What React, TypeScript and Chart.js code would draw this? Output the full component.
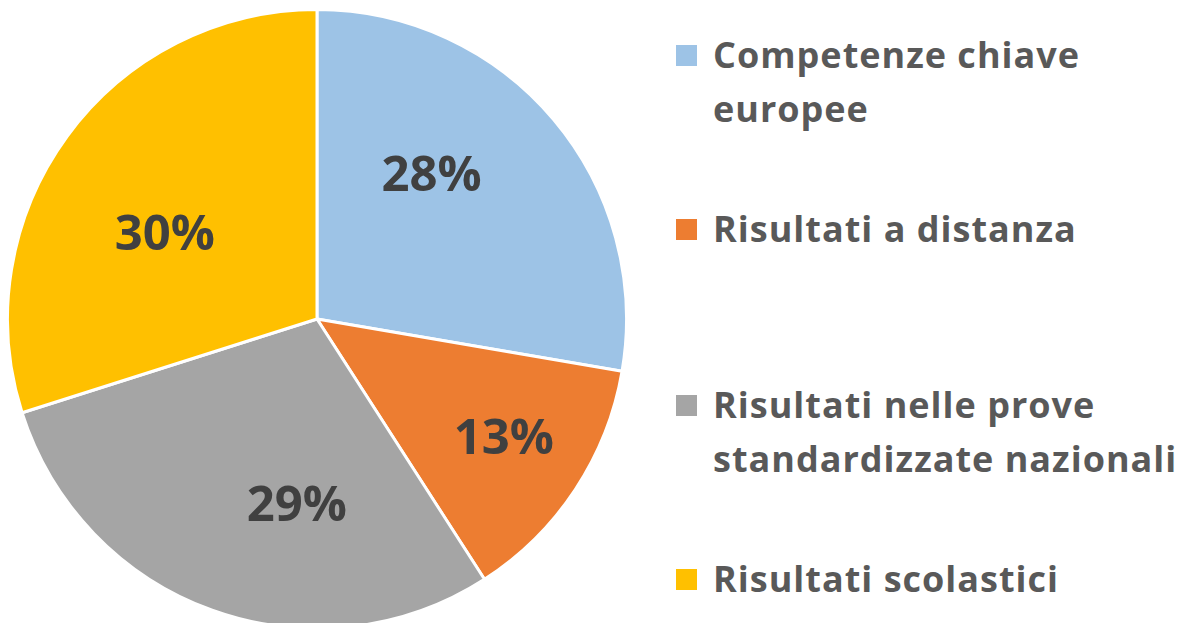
import React, { useEffect, useRef } from "react";
import { Chart, registerables } from "chart.js";

Chart.register(...registerables);

const categories = [
  "Competenze chiave europee",
  "Risultati a distanza",
  "Risultati nelle prove standardizzate nazionali",
  "Risultati scolastici",
];
const legendLines = [
  ["Competenze chiave", "europee"],
  ["Risultati a distanza"],
  ["Risultati nelle prove", "standardizzate nazionali"],
  ["Risultati scolastici"],
];
const shares = [27.7, 13.2, 29.2, 29.9];
const colors = ["#9DC3E6", "#ED7D31", "#A5A5A5", "#FFC000"];

// style: label placement (fraction along slice, fraction of radius)
const LABEL_PLACE = [
  [0.39, 0.59],
  [0.49, 0.72],
  [0.37, 0.61],
  [0.43, 0.56],
];
// style: legend entry tops (px)
const LEGEND_TOPS = [28, 202, 378, 552];
const LINE_H = 54;
const FONT = '"Open Sans", "Liberation Sans", sans-serif';

const labelPlugin = {
  id: "pctLabels",
  afterDatasetsDraw(chart: any) {
    const ctx = chart.ctx;
    const meta = chart.getDatasetMeta(0);
    const data = chart.data.datasets[0].data as number[];
    const total = data.reduce((a, b) => a + b, 0);
    ctx.save();
    ctx.font = `bold 49px ${FONT}`;
    ctx.fillStyle = "#404040";
    ctx.textAlign = "center";
    ctx.textBaseline = "middle";
    meta.data.forEach((arc: any, i: number) => {
      const { x, y, startAngle, endAngle, outerRadius } = arc.getProps(
        ["x", "y", "startAngle", "endAngle", "outerRadius"],
        true
      );
      const [f, r] = LABEL_PLACE[i];
      const a = startAngle + (endAngle - startAngle) * f;
      const px = x + Math.cos(a) * outerRadius * r;
      const py = y + Math.sin(a) * outerRadius * r;
      ctx.fillText(Math.round((data[i] / total) * 100) + "%", px, py);
    });
    ctx.restore();
  },
};

export default function App() {
  const ref = useRef<HTMLCanvasElement>(null);
  useEffect(() => {
    document.body.style.margin = "0";
    const chart = new Chart(ref.current!, {
      type: "pie",
      data: {
        labels: categories,
        datasets: [
          {
            data: shares,
            backgroundColor: colors,
            borderColor: "#ffffff",
            borderWidth: 3,
          },
        ],
      },
      options: {
        animation: false,
        responsive: true,
        maintainAspectRatio: false,
        layout: { padding: 0 },
        plugins: {
          legend: { display: false },
          tooltip: { enabled: false },
        },
      },
      plugins: [labelPlugin],
    });
    return () => chart.destroy();
  }, []);

  return (
    <div
      style={{
        position: "relative",
        width: 1180,
        height: 623,
        overflow: "hidden",
        background: "#fff",
      }}
    >
      <div
        style={{ position: "absolute", left: 6, top: 8, width: 622, height: 622 }}
      >
        <canvas ref={ref} />
      </div>
      {legendLines.map((lines, i) => (
        <div
          key={i}
          style={{
            position: "absolute",
            left: 676,
            top: LEGEND_TOPS[i],
            fontFamily: FONT,
            fontWeight: 700,
            fontSize: 36,
            lineHeight: LINE_H + "px",
            color: "#595959",
            letterSpacing: 1,
            whiteSpace: "nowrap",
          }}
        >
          <span
            style={{
              position: "absolute",
              left: 0,
              top: 17,
              width: 21,
              height: 21,
              background: colors[i],
            }}
          />
          <div style={{ marginLeft: 37 }}>
            {lines.map((l, j) => (
              <div key={j}>{l}</div>
            ))}
          </div>
        </div>
      ))}
    </div>
  );
}
